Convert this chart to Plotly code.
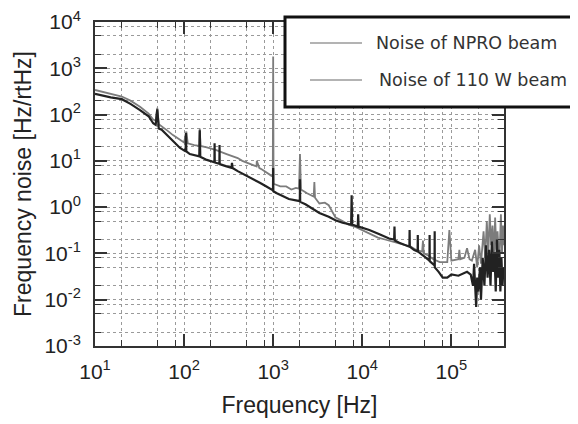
"""Frequency noise spectra of the NPRO seed and the 110 W amplified beam."""
import plotly.graph_objects as go

# ---- data ----
freq_110w = [10, 12, 15, 20, 25, 32, 40, 45, 48, 50, 52, 56, 65, 75, 90, 100, 106, 110,
             130, 148, 150, 153, 180, 230, 300, 350, 400, 450, 500, 550, 600, 650, 655,
             700, 750, 840, 900, 950, 990, 1000, 1010, 1100, 1200, 1400, 1600, 1800, 1950,
             2000, 2050, 2400, 2850, 2900, 2950, 3300, 3800, 4200, 5000, 6000, 7000, 8500,
             10000, 12000, 15000, 18000, 22000, 26000, 30000, 35000, 40000, 47000, 48000,
             49000, 55000, 63000, 74000, 90000, 95000, 100000, 120000, 123000, 126000,
             140000, 150000, 160000, 170000, 185000, 195000, 205000, 215000, 230000, 240000,
             250000, 260000, 270000, 280000, 290000, 300000, 310000, 320000, 330000, 345000,
             360000, 370000, 380000, 390000]
noise_110w = [340, 310, 280, 245, 200, 148, 105, 78, 74, 140, 62, 55, 45, 36, 29, 25, 43, 24,
              22, 21, 50, 21, 19.5, 17, 14, 12.5, 11.5, 10, 9.3, 8.8, 8, 7.6, 10,
              7, 6.5, 5.5, 5.2, 4.8, 4.6, 1800, 3.2, 3.0, 2.8, 2.8, 2.4, 2.6, 2.5,
              14, 2.4, 2.0, 1.7, 3.5, 1.6, 1.2, 1.25, 1.1, 0.6, 0.5, 0.42, 0.37,
              0.32, 0.27, 0.22, 0.2, 0.18, 0.16, 0.15, 0.14, 0.12, 0.11, 0.19,
              0.1, 0.09, 0.075, 0.065, 0.065, 0.32, 0.07, 0.075, 0.12, 0.075,
              0.08, 0.13, 0.075, 0.07, 0.12, 0.05, 0.15, 0.06, 0.3, 0.08,
              0.5, 0.1, 0.7, 0.15, 0.4, 0.08, 0.6, 0.12, 0.3, 0.06,
              0.7, 0.1, 0.4, 0.15]

freq_npro = [10, 12, 15, 20, 25, 32, 40, 45, 48, 50, 52, 56, 65, 75, 90, 104, 105, 106,
             116, 148, 150, 152, 180, 219, 220, 221, 249, 250, 251, 300, 340, 345, 350,
             400, 500, 600, 700, 840, 950, 995, 1000, 1005, 1100, 1300, 1500, 1800, 1990,
             2000, 2010, 2300, 2700, 3300, 4200, 5000, 6000, 7500, 7600, 7700, 8900, 9000,
             9100, 10000, 12000, 15600, 20000, 22800, 23000, 23200, 26000, 30000, 33800,
             34000, 34200, 38000, 41800, 42000, 42200, 50000, 56800, 57000, 57200, 64800,
             65000, 65200, 72000, 80000, 90000, 100000, 120000, 150000, 165000, 175000,
             180000, 185000, 190000, 195000, 200000, 210000, 215000, 225000, 235000,
             245000, 255000, 265000, 275000, 285000, 295000, 305000, 315000, 325000,
             335000, 345000, 355000, 365000, 375000, 385000]
noise_npro = [280, 255, 235, 215, 170, 125, 92, 65, 60, 130, 50, 47, 35, 26, 19, 16, 40, 16,
              14, 12.5, 46, 12.3, 10.5, 9.3, 24, 9.2, 8.6, 22, 8.5, 7.6, 7.1, 9, 7,
              6, 4.8, 4.1, 3.4, 2.8, 2.4, 2.3, 7, 2.2, 2.0, 1.7, 1.5, 1.4, 1.35,
              4, 1.3, 1.15, 0.95, 0.75, 0.62, 0.52, 0.46, 0.42, 1.8, 0.42, 0.38, 0.7,
              0.38, 0.36, 0.32, 0.26, 0.21, 0.2, 0.38, 0.19, 0.17, 0.15, 0.14,
              0.32, 0.14, 0.12, 0.11, 0.25, 0.11, 0.085, 0.07, 0.25, 0.068, 0.055,
              0.3, 0.05, 0.04, 0.03, 0.03, 0.035, 0.033, 0.04, 0.035, 0.02,
              0.06, 0.012, 0.007, 0.03, 0.015, 0.05, 0.01, 0.08, 0.02,
              0.15, 0.03, 0.12, 0.02, 0.18, 0.04, 0.1, 0.015, 0.2,
              0.03, 0.12, 0.015, 0.08, 0.02, 0.05]

x_major = [10, 100, 1000, 10000, 100000]
x_major_text = ["10<sup>1</sup>", "10<sup>2</sup>", "10<sup>3</sup>", "10<sup>4</sup>", "10<sup>5</sup>"]
y_major = [1e-3, 1e-2, 1e-1, 1, 10, 100, 1000, 10000]
y_major_text = ["10<sup>-3</sup>", "10<sup>-2</sup>", "10<sup>-1</sup>", "10<sup>0</sup>",
                "10<sup>1</sup>", "10<sup>2</sup>", "10<sup>3</sup>", "10<sup>4</sup>"]
minor_steps = [2, 5, 8]
legend_labels = ["Noise of NPRO beam", "Noise of 110 W beam"]

x_minor = [m * d for d in x_major for m in minor_steps if m * d < 3.9e5]
y_minor = [m * d for d in y_major[:-1] for m in minor_steps]

# the page body adds an 8px margin, so the figure is 8px smaller than the window
PAD = 8
FW, FH = 578 - PAD, 424 - PAD
L, R, T, B = 95 - PAD, 74, 22 - PAD, 78
W, H = FW - L - R, FH - T - B


def paper(px, py):
    """pixel position in the window -> paper coordinates"""
    return (px - PAD - L) / W, (FH - B - (py - PAD)) / H


fig = go.Figure()
fig.add_trace(go.Scatter(x=freq_110w, y=noise_110w, mode="lines",
                         line=dict(color="#7c7c7c", width=1.8), showlegend=False))
fig.add_trace(go.Scatter(x=freq_npro, y=noise_npro, mode="lines",
                         line=dict(color="#222", width=2.2), showlegend=False))

label_font = dict(family="Liberation Sans, Arial", size=23, color="#222")
axis_common = dict(
    showline=True, linecolor="#333", linewidth=2, mirror="allticks",
    ticks="inside", ticklen=12, tickwidth=1.5, tickcolor="#333",
    showgrid=True, gridcolor="#9a9a9a", gridwidth=1, griddash="dot",
    zeroline=False, automargin=False, ticklabeloverflow="allow",
    tickfont=dict(family="Liberation Sans, Arial", size=21, color="#222"),
    minor=dict(ticks="inside", ticklen=6, tickwidth=1.2, tickcolor="#333",
               showgrid=True, gridcolor="#9a9a9a", gridwidth=1, griddash="dot"),
)

fig.update_xaxes(type="log", range=[1, 5.591], tickvals=x_major, ticktext=x_major_text,
                 minor_tickvals=x_minor, ticklabelstandoff=6,
                 title=dict(text="Frequency [Hz]", standoff=15, font=label_font),
                 **axis_common)
fig.update_yaxes(type="log", range=[-3, 4], tickvals=y_major, ticktext=y_major_text,
                 minor_tickvals=y_minor, ticklabelstandoff=8,
                 title=dict(text="Frequency noise [Hz/rtHz]", standoff=6, font=label_font),
                 **axis_common)

# hand-drawn legend box like the original
bx0, by0 = paper(285, 107)
bx1, by1 = paper(577, 17)
fig.add_shape(type="rect", xref="paper", yref="paper", x0=bx0, y0=by0, x1=bx1, y1=by1,
              line=dict(color="#111", width=3), fillcolor="white", layer="above")
for i, (label, py) in enumerate(zip(legend_labels, [43, 80])):
    lx0, ly = paper(310, py)
    lx1, _ = paper(362, py)
    fig.add_shape(type="line", xref="paper", yref="paper", x0=lx0, y0=ly, x1=lx1, y1=ly,
                  line=dict(color="#9a9a9a", width=1.5), layer="above")
    tx, _ = paper(374 + 3 * i, py)
    fig.add_annotation(text=label, xref="paper", yref="paper", x=tx, y=ly,
                       xanchor="left", yanchor="middle", showarrow=False,
                       font=dict(family="DejaVu Sans, Verdana", size=17.5, color="#333"))

fig.update_layout(
    width=FW, height=FH,
    margin=dict(l=L, r=R, t=T, b=B),
    paper_bgcolor="white", plot_bgcolor="white",
    showlegend=False,
)

fig.write_html("out.html")
